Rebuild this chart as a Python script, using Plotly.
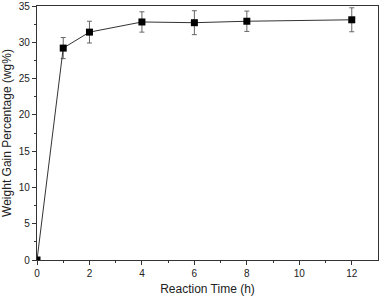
import plotly.graph_objects as go

time_h = [0, 1, 2, 4, 6, 8, 12]
weight_gain = [0, 29.2, 31.4, 32.8, 32.7, 32.9, 33.1]
err = [0, 1.45, 1.5, 1.4, 1.65, 1.4, 1.65]

fig = go.Figure()
fig.add_trace(go.Scatter(
    x=time_h, y=weight_gain, mode="lines+markers",
    line=dict(color="#333333", width=1),
    marker=dict(symbol="square", size=7, color="black"),
    error_y=dict(type="data", array=err, visible=True, color="#666666", thickness=1, width=2.5),
    showlegend=False,
))

axis_common = dict(
    showline=True, linecolor="#333333", linewidth=1.2, mirror=True,
    ticks="outside", ticklen=4, tickcolor="#333333", showgrid=False, zeroline=False,
    automargin=False,
    tickfont=dict(family="Liberation Sans, Arial", size=10, color="#222222"),
    title_font=dict(family="Liberation Sans, Arial", size=12, color="#222222"),
)
fig.update_xaxes(range=[0, 13], tickvals=[0, 2, 4, 6, 8, 10, 12],
                 minor=dict(tickvals=[1, 3, 5, 7, 9, 11], ticks="outside", ticklen=2, tickcolor="#333333"),
                 title_text="Reaction Time (h)", title_standoff=6, **axis_common)
fig.update_yaxes(range=[0, 35], tickvals=[0, 5, 10, 15, 20, 25, 30, 35],
                 minor=dict(tickvals=[2.5, 7.5, 12.5, 17.5, 22.5, 27.5, 32.5], ticks="outside", ticklen=2, tickcolor="#333333"),
                 title_text="Weight Gain Percentage (wg%)", title_standoff=4, **axis_common)
fig.update_layout(
    width=382, height=299, plot_bgcolor="white", paper_bgcolor="white",
    margin=dict(l=37, r=4, t=6, b=39),
)
fig.write_html("out.html", config={"displayModeBar": False},
               post_script="document.body.style.margin='0';")
